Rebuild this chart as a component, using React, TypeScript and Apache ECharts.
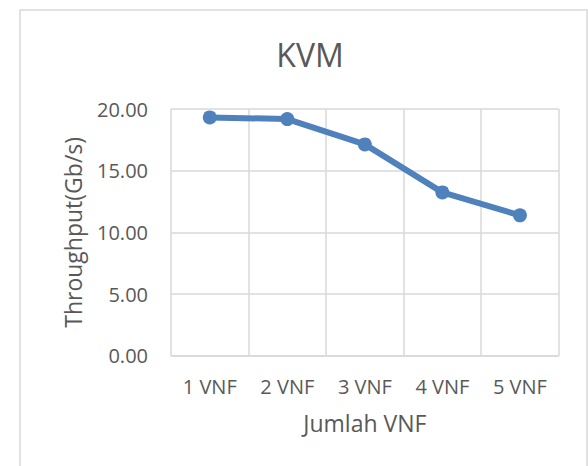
import React, { useEffect, useRef } from "react";
import * as echarts from "echarts";

const categories = ["1 VNF", "2 VNF", "3 VNF", "4 VNF", "5 VNF"];
const throughput = [19.32, 19.18, 17.13, 13.24, 11.38];
const yTicks = { min: 0, max: 20, interval: 5 };
const chartTitle = "KVM";
const xTitle = "Jumlah VNF";
const yTitle = "Throughput(Gb/s)";

export default function App() {
  const ref = useRef<HTMLDivElement>(null);
  useEffect(() => {
    if (!ref.current) return;
    const chart = echarts.init(ref.current, undefined, { renderer: "svg" });
    const font = "'Open Sans', 'Noto Sans', sans-serif";
    const grey = "#595959";
    chart.setOption({
      animation: false,
      backgroundColor: "#ffffff",
      title: {
        text: chartTitle,
        left: 305,
        top: 33,
        textAlign: "center",
        textStyle: { fontFamily: font, fontSize: 32, fontWeight: "normal", color: grey },
      },
      graphic: [
        {
          type: "rect",
          shape: { x: 20, y: 10, width: 567, height: 480 },
          style: { fill: "none", stroke: "#d9d9d9", lineWidth: 1.5 },
          silent: true,
        },
      ],
      grid: { left: 171, right: 29.3, top: 109, bottom: 110.3, containLabel: false },
      xAxis: {
        type: "category",
        data: categories,
        boundaryGap: true,
        name: xTitle,
        nameLocation: "middle",
        nameGap: 56,
        nameTextStyle: { fontFamily: font, fontSize: 23, color: grey },
        axisLine: { show: true, lineStyle: { color: "#d9d9d9", width: 1.5 } },
        axisTick: { show: false },
        axisLabel: { fontFamily: font, fontSize: 20, color: grey, margin: 21 },
        splitLine: { show: true, lineStyle: { color: "#d9d9d9", width: 1.5 } },
      },
      yAxis: {
        type: "value",
        min: yTicks.min,
        max: yTicks.max,
        interval: yTicks.interval,
        name: yTitle,
        nameLocation: "middle",
        nameGap: 87,
        nameTextStyle: { fontFamily: font, fontSize: 23, color: grey },
        axisLine: { show: false },
        axisTick: { show: false },
        axisLabel: {
          fontFamily: font,
          fontSize: 20,
          color: grey,
          margin: 23,
          formatter: (v: number) => v.toFixed(2),
        },
        splitLine: { show: true, lineStyle: { color: "#d9d9d9", width: 1.5 } },
      },
      series: [
        {
          type: "line",
          data: throughput,
          symbol: "circle",
          symbolSize: 14,
          lineStyle: { color: "#4f81bd", width: 6 },
          itemStyle: { color: "#4f81bd" },
        },
      ],
    });
    return () => chart.dispose();
  }, []);
  return (
    <div
      ref={ref}
      style={{ position: "fixed", left: 0, top: 0, width: 588, height: 466 }}
    />
  );
}
